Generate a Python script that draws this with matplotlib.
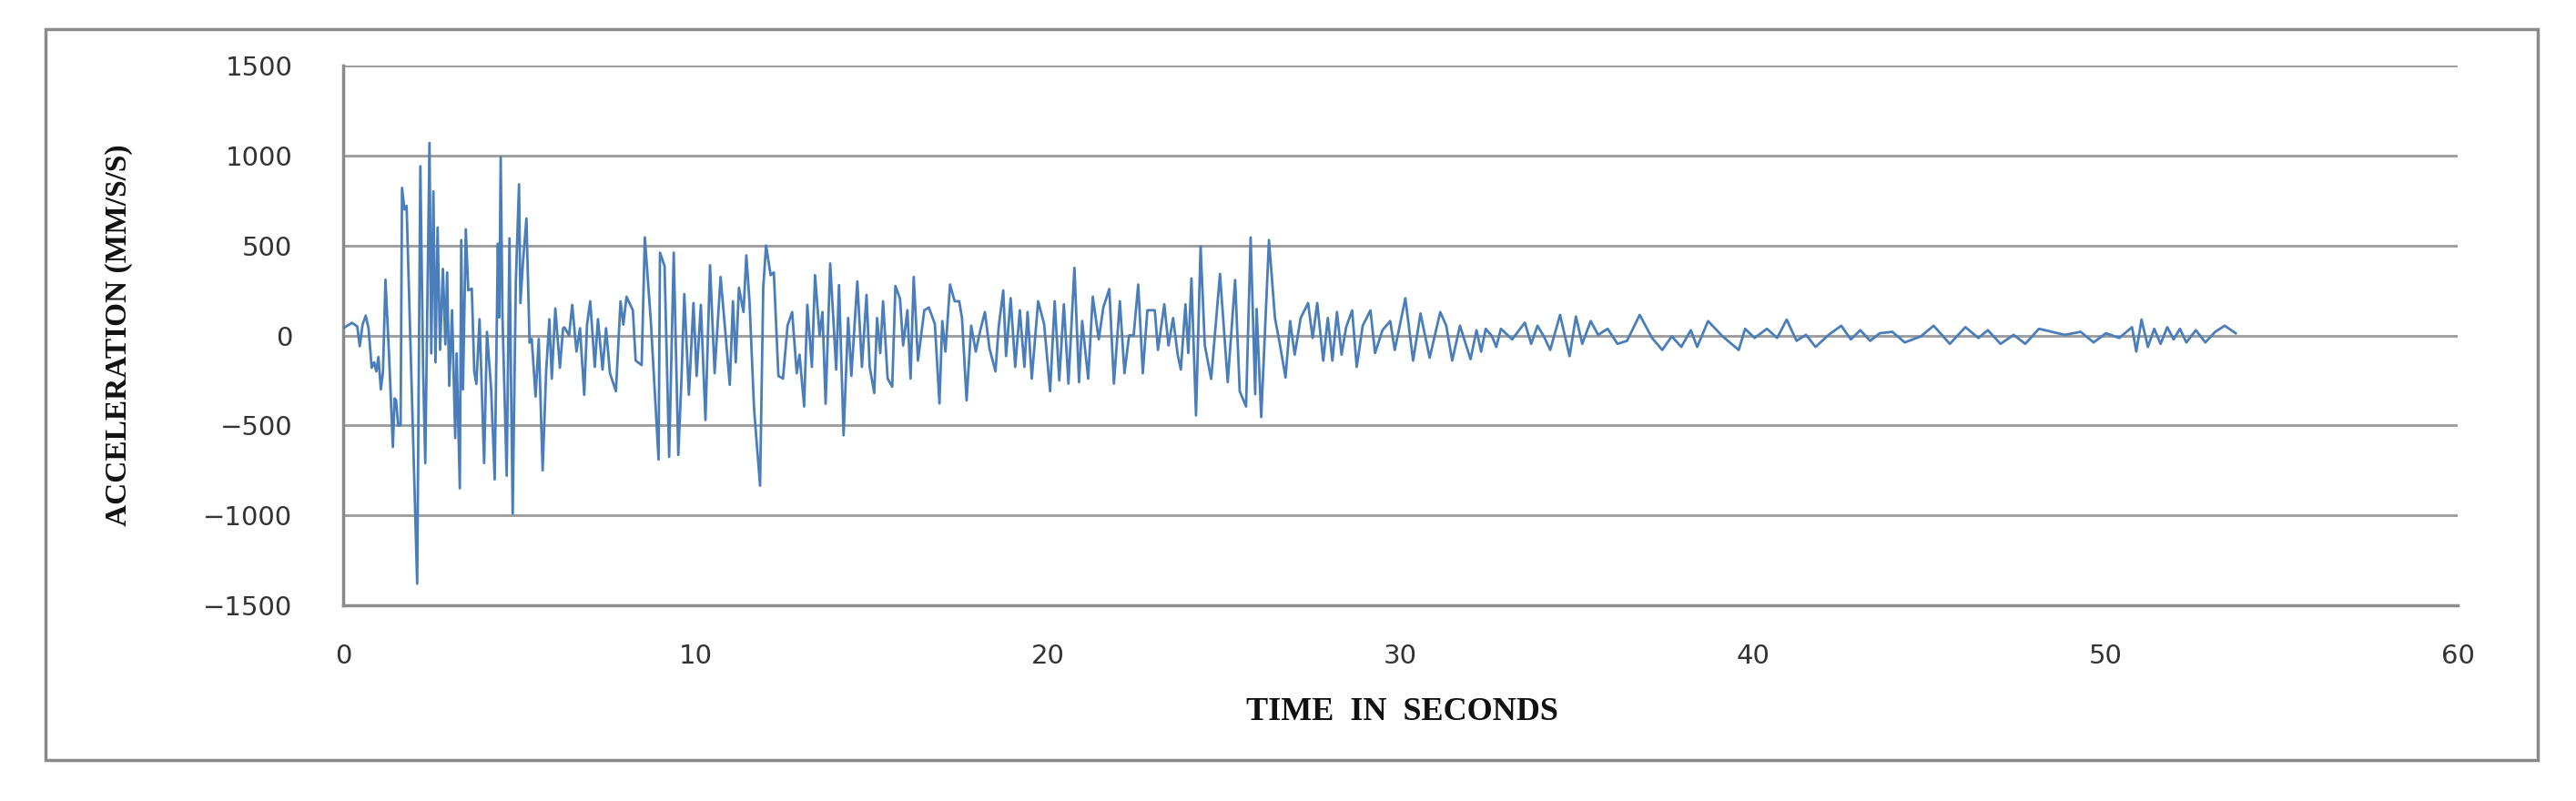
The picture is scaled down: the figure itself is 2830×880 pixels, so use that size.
import matplotlib
matplotlib.use("Agg")
import matplotlib.pyplot as plt
from matplotlib.patches import Rectangle

# time (s) of turning points read from the record
time_s = [0.0,0.25,0.4,0.47,0.55,0.64,0.72,0.81,0.88,0.94,1.0,1.07,1.13,1.20,1.30,1.41,1.46,1.50,1.56,1.63,1.67,1.74,1.80,2.10,
 2.19,2.27,2.33,2.45,2.50,2.56,2.62,2.68,2.75,2.83,2.90,2.95,3.01,3.09,3.18,3.22,3.31,3.35,3.40,3.48,3.55,3.65,3.72,3.78,3.87,4.00,
 4.08,4.20,4.30,4.39,4.43,4.47,4.52,4.64,4.72,4.76,4.81,4.90,4.99,5.03,5.10,5.20,5.29,5.35,5.46,5.55,5.66,5.76,5.85,5.92,6.02,6.15,6.24,
 6.28,6.41,6.5,6.62,6.72,6.84,6.92,7.01,7.14,7.23,7.36,7.46,7.57,7.74,7.87,7.95,8.04,8.22,8.3,8.47,8.56,8.73,8.95,8.99,9.12,9.25,9.38,
 9.51,9.6,9.68,9.81,9.94,10.03,10.15,10.28,10.41,10.54,10.71,10.84,10.97,11.06,11.14,11.23,11.36,11.44,11.53,11.66,11.83,11.92,12.0,
 12.13,12.22,12.35,12.48,12.61,12.74,12.87,12.95,13.08,13.17,13.30,13.39,13.52,13.6,13.69,13.82,13.99,14.07,
 14.2,14.33,14.42,14.59,14.72,14.85,14.94,15.07,15.15,15.24,15.32,15.45,15.58,15.67,15.8,15.89,16.01,16.1,16.19,16.31,16.49,16.62,
 16.79,16.92,17.0,17.09,17.22,17.35,17.48,17.56,17.69,17.82,17.95,18.08,18.21,18.34,18.51,18.6,18.73,18.81,18.94,19.07,19.2,19.33,
 19.42,19.54,19.72,19.89,20.06,20.19,20.32,20.45,20.58,20.75,20.88,20.97,21.14,21.27,21.44,21.57,21.74,21.87,22.04,22.17,22.3,22.43,
 22.56,22.69,
 22.82,23.03,23.12,23.3,23.42,23.55,23.68,23.77,23.9,23.98,24.07,24.2,24.33,24.45,24.63,24.88,25.1,25.31,25.44,25.62,25.75,25.88,
 25.92,26.05,26.27,26.44,26.57,26.74,26.87,27.0,27.17,27.38,27.51,27.64,27.81,27.94,28.07,28.2,28.33,28.46,28.63,28.76,28.93,29.15,
 29.28,29.49,29.71,29.84,30.14,30.36,30.57,30.83,31.13,31.3,31.47,31.69,31.99,32.16,32.29,32.42,32.6,32.72,32.85,
 33.17,33.53,33.71,33.89,34.07,34.25,34.53,34.8,34.98,35.16,35.4,35.61,35.88,36.16,36.43,36.79,37.14,37.43,37.7,37.97,38.24,38.42,
 38.73,39.14,39.6,39.78,40.05,40.4,40.69,40.96,41.24,41.51,41.78,42.15,42.51,42.78,43.05,43.33,43.6,43.96,44.31,44.77,45.13,45.59,
 46.03,46.4,46.67,47.03,47.4,47.73,48.12,48.48,48.85,49.3,49.67,50.02,50.4,50.76,50.88,51.03,51.21,51.39,51.57,51.76,51.94,52.12,
 52.3,52.57,52.84,53.12,53.39,53.7]

# acceleration (mm/s/s)
accel = [40,70,50,-60,60,110,40,-180,-150,-200,-120,-300,-200,310,-100,-620,-350,-360,-500,-500,820,700,720,-1380,
 940,-200,-710,1070,-100,800,-150,600,-80,370,-50,350,-280,140,-570,-100,-850,530,-300,590,250,260,-200,-270,90,-710,
 20,-300,-800,510,100,990,110,-780,540,-200,-990,300,840,180,400,650,-40,-20,-340,-20,-750,-200,90,-240,150,-180,40,
 45,0,170,-90,40,-330,60,190,-175,90,-190,40,-210,-310,190,60,215,140,-140,-165,545,80,-690,460,385,-675,460,
 -665,-240,230,-330,180,-225,170,-470,390,-210,325,30,-275,190,-150,265,130,445,190,-410,-835,265,500,
 335,350,-225,-240,55,130,-210,-107,-395,170,-175,335,0,130,-380,400,-190,280,
 -555,97,-225,300,-175,225,-175,-320,97,-98,190,-240,-285,275,205,-56,140,-240,325,-140,140,155,
 63,-378,80,-90,283,190,190,97,-361,54,-90,29,130,-73,-200,46,250,-115,207,-175,140,-175,
 130,-240,190,63,-310,190,-250,173,-268,376,-260,80,-240,215,-22,156,258,-268,190,-210,0,0,
 283,-210,
 140,140,-81,173,-56,97,-107,-190,173,-98,317,-445,495,-56,-242,342,-260,308,-310,-395,545,-327,
 147,-454,530,97,-39,-234,80,-107,97,180,-14,180,-140,97,-140,130,-107,46,139,-175,54,139,
 -98,29,80,-81,207,-140,122,-124,130,54,-140,54,-132,29,-90,37,-5,-64,37,
 -22,71,-47,54,-5,-81,114,-115,105,-47,80,3,37,-47,-30,114,-14,-81,-5,-64,29,-64,
 80,-5,-81,37,-14,37,-14,88,-30,3,-64,3,54,-22,29,-30,12,20,-39,-5,54,-47,
 46,-14,29,-47,3,-47,37,20,3,20,-39,12,-14,46,-90,88,-64,37,-47,46,-22,37,
 -39,29,-39,20,54,12]

x_ticks = [0, 10, 20, 30, 40, 50, 60]
y_ticks = [-1500, -1000, -500, 0, 500, 1000, 1500]

W, H = 2830, 880
fig = plt.figure(figsize=(W/100, H/100), dpi=100)
fig.patches.append(Rectangle((50/W, 1-835/H), (2788-50)/W, (835-32)/H,
                             transform=fig.transFigure, fill=False,
                             edgecolor="#8a8a8a", linewidth=2.5))

ax = fig.add_axes([377/W, 1-665/H, (2700-377)/W, (665-72)/H])
ax.plot(time_s, accel, color="#4a7ebb", linewidth=2.0, zorder=3)
ax.set_xlim(0, 60)
ax.set_ylim(-1500, 1500)
ax.set_xticks(x_ticks)
ax.set_yticks(y_ticks)
ax.grid(axis="y", color="#9a9a9a", linewidth=2.0, zorder=0)
for s in ["top", "right"]:
    ax.spines[s].set_visible(False)
for s in ["left", "bottom"]:
    ax.spines[s].set_color("#8a8a8a")
    ax.spines[s].set_linewidth(2.5)
ax.tick_params(axis="both", length=0, labelsize=21, labelcolor="#333333")
ax.tick_params(axis="y", pad=40)
ax.tick_params(axis="x", pad=30)

fig.text(130/W, 1-368/H, "ACCELERATION (MM/S/S)", rotation=90, ha="center", va="center",
         family="Liberation Serif", fontweight="bold", fontsize=24, color="#111111")
fig.text(1540/W, 1-782/H, "TIME  IN  SECONDS", ha="center", va="center",
         family="Liberation Serif", fontweight="bold", fontsize=26, color="#111111")

fig.savefig("out.png", dpi=100)
